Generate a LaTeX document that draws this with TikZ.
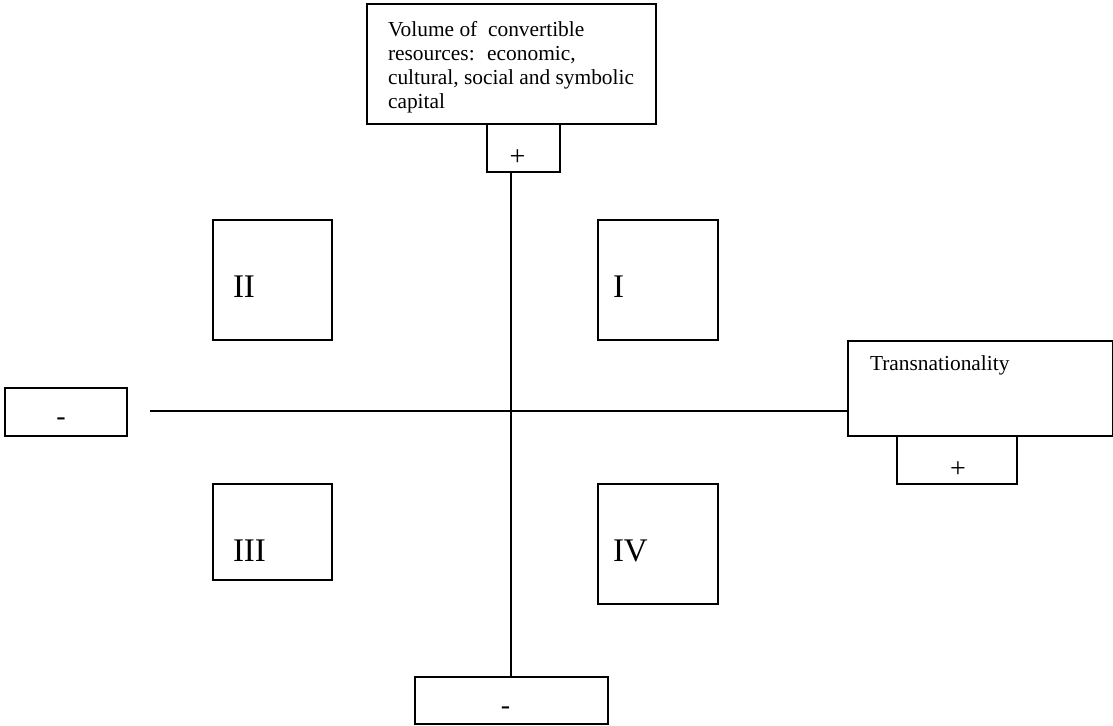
\documentclass[tikz,border=0pt]{standalone}
\usepackage{fontspec}
\setmainfont{Liberation Serif}
\usepackage{tikz}

\begin{document}
\begin{tikzpicture}
	[x=0.5pt,y=-0.5pt,line width=1pt,
	%Styles
	box/.style={draw,rectangle,inner sep=0pt,anchor=north west},
	sign/.style={inner sep=0pt,font=\fontsize{14}{16}\selectfont},
	numeral/.style={anchor=base west,inner sep=0pt,font=\fontsize{16.5}{20}\selectfont},
	small text/.style={inner sep=0pt,font=\fontsize{10.7}{12}\selectfont}
	]
	
	%Frame
	\useasboundingbox (0,0) rectangle (1113,725);
	
	%Axis boxes
	\node[box,minimum width=144.5pt,minimum height=60pt] (resources) at (366,3) {};
	\node[box,minimum width=36.5pt,minimum height=24pt] (resplus) at (486,123) {};
	\node[box,minimum width=96.5pt,minimum height=23.5pt] (resminus) at (414,676) {};
	\node[box,minimum width=132.5pt,minimum height=47.5pt] (transnat) at (847,340) {};
	\node[box,minimum width=60pt,minimum height=24pt] (transplus) at (896,435) {};
	\node[box,minimum width=61pt,minimum height=24pt] (transminus) at (4,387) {};
	
	\node[small text,anchor=north west,align=left] at ([shift={(21,17)}]resources.north west)
		{Volume of~ convertible\\ resources:~ economic,\\ cultural, social and symbolic\\ capital};
	\node[small text,anchor=base west] at ([shift={(22,30)}]transnat.north west) {Transnationality};
	
	\node[sign] at ([shift={(-6,10)}]resplus.center) {+};
	\node[sign] at ([shift={(-6,10)}]resminus.center) {-};
	\node[sign] at ([shift={(1,10)}]transplus.center) {+};
	\node[sign] at ([shift={(-5,10)}]transminus.center) {-};
	
	%Quadrants
	\node[box,minimum width=59.5pt,minimum height=60pt] (q2) at (212,219) {};
	\node[box,minimum width=60pt,minimum height=60pt] (q1) at (597,219) {};
	\node[box,minimum width=59.5pt,minimum height=48pt] (q3) at (212,483) {};
	\node[box,minimum width=60pt,minimum height=60pt] (q4) at (597,483) {};
	
	\node[numeral] at ([shift={(20,78)}]q2.north west) {II};
	\node[numeral] at ([shift={(15,78)}]q1.north west) {I};
	\node[numeral] at ([shift={(20,78)}]q3.north west) {III};
	\node[numeral] at ([shift={(15,78)}]q4.north west) {IV};
	
	%Axes
	\coordinate (origin) at (511,411);
	\coordinate (xstart) at (150,411);
	\draw (origin |- resplus.south) -- (origin |- resminus.north);
	\draw (xstart) -- (xstart -| transnat.west);
\end{tikzpicture}
\end{document}
